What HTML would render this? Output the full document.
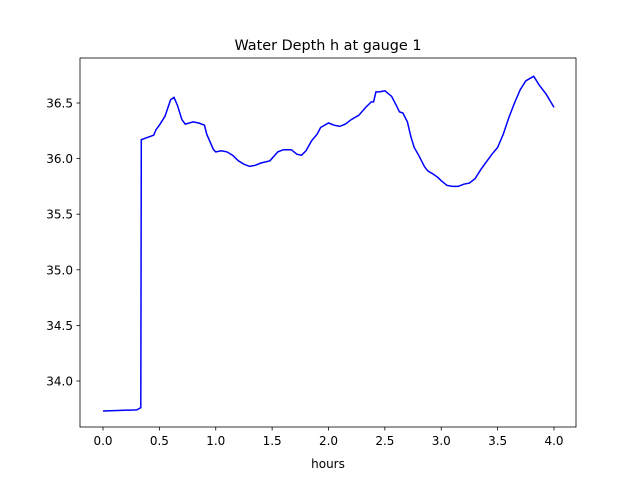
<!DOCTYPE html>
<html><head><meta charset="utf-8"><style>
body{margin:0;background:#fff;}
svg text{font-family:"DejaVu Sans","Liberation Sans",sans-serif;fill:#000;}
</style></head><body>
<svg width="640" height="480">
<rect width="640" height="480" fill="#fff"/>
<text x="328" y="50" font-size="14.4" text-anchor="middle">Water Depth h at gauge 1</text>
<text x="328" y="468" font-size="12" text-anchor="middle">hours</text>
<g id="ticks"></g>
<path id="line" fill="none" stroke="#0000ff" stroke-width="1.5"/>
<rect x="80" y="58" width="496" height="369" fill="none" stroke="#000" stroke-width="0.8"/>
</svg>
<script>
const hours=[0,0.3,0.335,0.34,0.45,0.47,0.5,0.55,0.6,0.63,0.66,0.7,0.73,0.8,0.85,0.9,0.92,0.95,0.98,1.0,1.05,1.1,1.15,1.2,1.25,1.3,1.35,1.4,1.48,1.55,1.6,1.67,1.72,1.76,1.8,1.85,1.9,1.93,2.0,2.05,2.1,2.15,2.2,2.27,2.33,2.38,2.4,2.42,2.45,2.5,2.56,2.6,2.63,2.66,2.7,2.73,2.76,2.8,2.85,2.88,2.93,2.97,3.0,3.05,3.1,3.15,3.2,3.25,3.3,3.35,3.4,3.45,3.5,3.55,3.6,3.65,3.7,3.75,3.82,3.87,3.93,4.0];
const depth=[33.73,33.74,33.76,36.17,36.21,36.26,36.3,36.38,36.53,36.55,36.48,36.35,36.31,36.33,36.32,36.3,36.22,36.15,36.08,36.06,36.07,36.06,36.03,35.98,35.95,35.93,35.94,35.96,35.98,36.06,36.08,36.08,36.04,36.03,36.07,36.16,36.22,36.28,36.32,36.3,36.29,36.31,36.35,36.39,36.46,36.51,36.51,36.6,36.6,36.61,36.56,36.48,36.42,36.41,36.33,36.2,36.1,36.03,35.93,35.89,35.86,35.83,35.8,35.76,35.75,35.75,35.77,35.78,35.82,35.9,35.97,36.04,36.1,36.22,36.37,36.5,36.62,36.7,36.74,36.66,36.58,36.46];
const xTicks=[0,0.5,1,1.5,2,2.5,3,3.5,4];
const yTicks=[34,34.5,35,35.5,36,36.5];
const X=v=>103+v*112.75;
const Y=v=>381-(v-34)*111.2;
const NS='http://www.w3.org/2000/svg';
const g=document.getElementById('ticks');
function mk(t,a){const e=document.createElementNS(NS,t);for(const k in a)e.setAttribute(k,a[k]);g.appendChild(e);return e;}
xTicks.forEach(v=>{
 const l=mk('line',{x1:X(v),x2:X(v),y1:427,y2:430.5,stroke:'#000','stroke-width':0.8});
 
 
 const t=mk('text',{x:X(v),y:445,'font-size':12,'text-anchor':'middle'});
 t.textContent=v.toFixed(1);
 
 
});
yTicks.forEach(v=>{
 const l=mk('line',{x1:76.5,x2:80,y1:Y(v),y2:Y(v),stroke:'#000','stroke-width':0.8});
 
 
 const t=mk('text',{x:73,y:Y(v)+4.5,'font-size':12,'text-anchor':'end'});
 t.textContent=v.toFixed(1);
 
 
});
document.getElementById('line').setAttribute('d',hours.map((h,i)=>(i?'L':'M')+X(h).toFixed(1)+','+Y(depth[i]).toFixed(1)).join(''));
</script>
</body></html>
